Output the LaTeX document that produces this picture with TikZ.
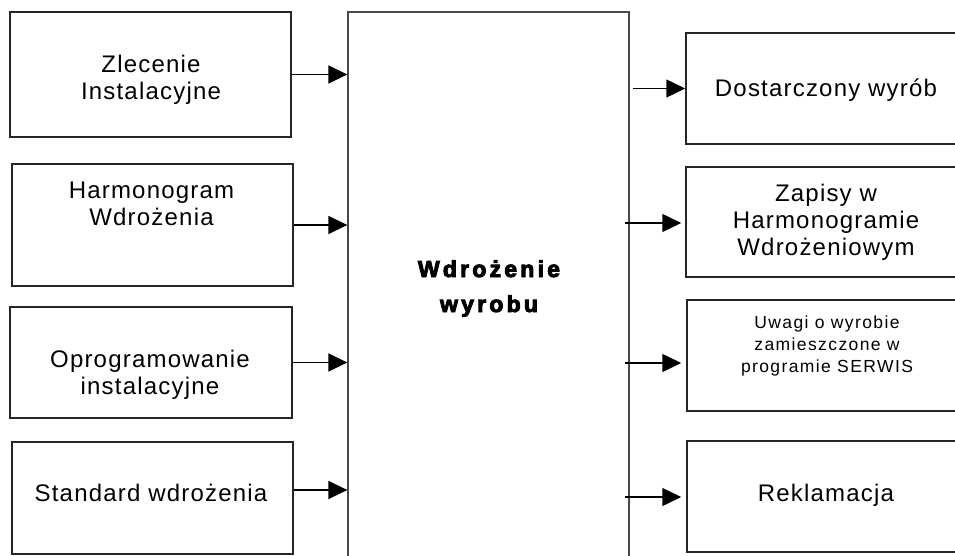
\documentclass[tikz,border=0pt]{standalone}
\usepackage{fontspec}
\setmainfont{Liberation Sans}[LetterSpace=5]
\newfontfamily\smallfont{Liberation Sans}[LetterSpace=8]
\newfontfamily\titlefont{Liberation Sans}[LetterSpace=14, BoldFeatures={FakeBold=4}]
\usetikzlibrary{arrows.meta,calc}

\tikzset{
  box/.style={draw=black!85, line width=1.5pt, rectangle, inner sep=0pt},
  mainbox/.style={draw=black!72, line width=1.3pt, rectangle, inner sep=0pt},
  lbl/.style={inner sep=0pt, align=center, anchor=base,
              font=\fontsize{24}{27}\selectfont},
  small/.style={inner sep=0pt, align=center, anchor=base,
              font=\smallfont\fontsize{17.5}{22}\selectfont},
  flow/.style={line width=1.5pt, -{Triangle[length=19pt,width=18pt]}},
}

\begin{document}
\begin{tikzpicture}[x=1pt, y=-1pt]
  \useasboundingbox (0,0) rectangle (955,556);
  \clip (0,0) rectangle (955,556);

  % central process (its lower edge runs off the page)
  \node[mainbox, minimum width=281pt, minimum height=588pt] (C) at (488.5,306) {};
  % multi-line labels are placed by the baseline of their last line
  \node[inner sep=0pt, align=center, anchor=base,
        font=\titlefont\bfseries\fontsize{23}{35}\selectfont] (Ct) at (489,312) {Wdrożenie\\wyrobu};

  % inputs
  \node[box, minimum width=281pt, minimum height=125pt] (L1) at (150.5,74.5) {};
  \node[box, minimum width=281pt, minimum height=122pt] (L2) at (152.5,225) {};
  \node[box, minimum width=282pt, minimum height=111pt] (L3) at (151,362.5) {};
  \node[box, minimum width=281pt, minimum height=112pt] (L4) at (152.5,498) {};

  \node[lbl] (L1t) at (151,100)   {Zlecenie\\Instalacyjne};
  \node[lbl] (L2t) at (151.5,225) {Harmonogram\\Wdrożenia};
  \node[lbl] (L3t) at (150,394)   {Oprogramowanie\\instalacyjne};
  \node[lbl] (L4t) at (151,501)   {Standard wdrożenia};

  % outputs (their right edges run off the page)
  \node[box, minimum width=280pt, minimum height=111pt] (R1) at (826,88.5) {};
  \node[box, minimum width=280pt, minimum height=110pt] (R2) at (826,222) {};
  \node[box, minimum width=280pt, minimum height=111pt] (R3) at (827,355.5) {};
  \node[box, minimum width=280pt, minimum height=111pt] (R4) at (827,496.5) {};

  \node[lbl] (R1t) at (826,97)    {Dostarczony wyrób};
  \node[lbl] (R2t) at (826,255)   {Zapisy w\\Harmonogramie\\Wdrożeniowym};
  \node[small] (R3t) at (827,372) {Uwagi o wyrobie\\zamieszczone w\\programie SERWIS};
  \node[lbl] (R4t) at (826,501)   {Reklamacja};

  % input arrows
  \draw[flow] (L1.east) -- (L1.east -| C.west);
  \draw[flow] (L2.east) -- (L2.east -| C.west);
  \draw[flow] (L3.east) -- (L3.east -| C.west);
  \draw[flow] ($(L4.east)+(0,-8)$) -- ($(L4.east -| C.west)+(0,-8)$);

  % output arrows
  \draw[flow] ($(C.east |- R1.west)+(3,0)$) -- (R1.west);
  \draw[flow] ($(C.east |- R2.west)+(-5,1)$) -- ($(R2.west)+(-4,1)$);
  \draw[flow] ($(C.east |- R3.west)+(-5,7.5)$) -- ($(R3.west)+(-5,7.5)$);
  \draw[flow] ($(C.east |- R4.west)+(-5,0.5)$) -- ($(R4.west)+(-5,0.5)$);
\end{tikzpicture}
\end{document}
